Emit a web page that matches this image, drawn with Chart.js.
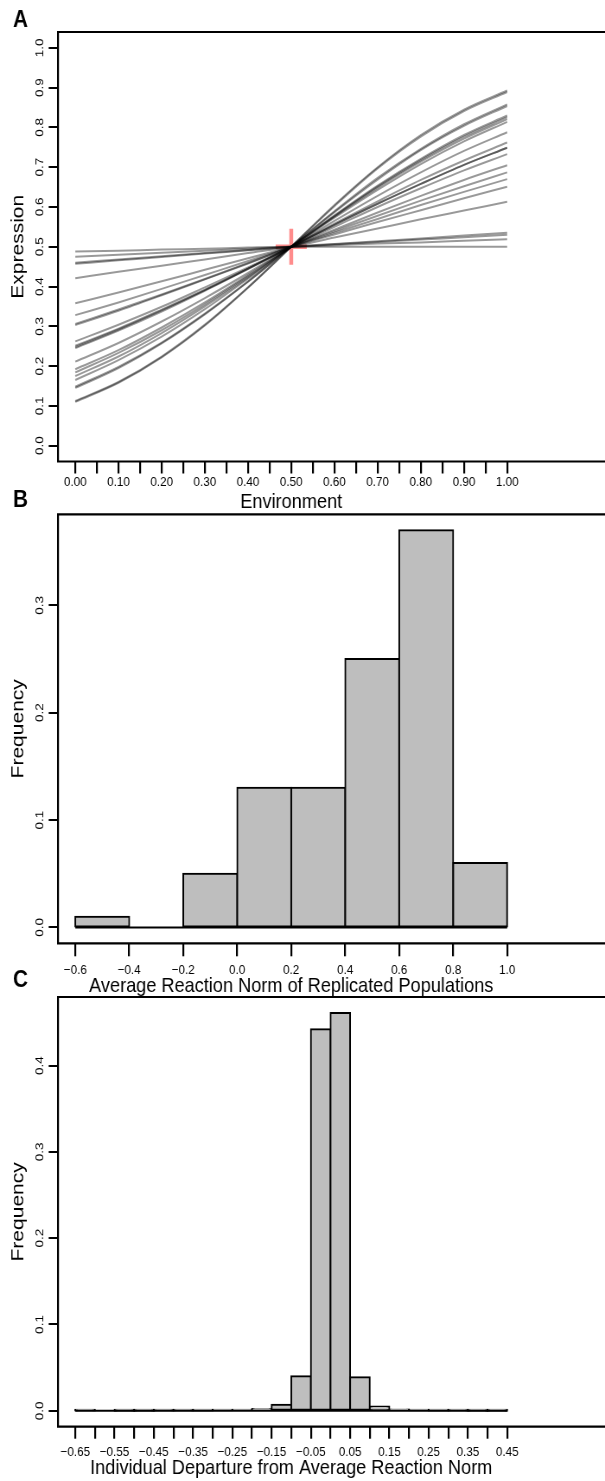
<!DOCTYPE html>
<html>
<head>
<meta charset="utf-8">
<script src="https://cdn.jsdelivr.net/npm/chart.js@4.4.1/dist/chart.umd.min.js"></script>
<style>
html, body { margin: 0; padding: 0; background: #fff; overflow: hidden; }
#wrap { position: relative; width: 605px; height: 1481px; }
#wrap canvas { position: absolute; left: 0; }
</style>
</head>
<body>
<div id="wrap">
  <canvas id="chartA" width="700" height="520" style="top:0px;width:605px;height:520px"></canvas>
  <canvas id="chartB" width="700" height="520" style="top:480px;width:605px;height:520px"></canvas>
  <canvas id="chartC" width="700" height="519" style="top:962px;width:605px;height:519px"></canvas>
</div>
<script>
// --- panel A: reaction norms, read at these environment values
const envX = [0, 0.1, 0.2, 0.3, 0.4, 0.5, 0.6, 0.7, 0.8, 0.9, 1];
const reactionNorms = [
  [0.110, 0.158, 0.222, 0.302, 0.397, 0.5, 0.605, 0.700, 0.781, 0.845, 0.893],
  [0.112, 0.160, 0.224, 0.304, 0.398, 0.5, 0.602, 0.697, 0.777, 0.841, 0.889],
  [0.145, 0.195, 0.257, 0.330, 0.412, 0.5, 0.589, 0.673, 0.746, 0.808, 0.858],
  [0.148, 0.198, 0.259, 0.332, 0.413, 0.5, 0.587, 0.669, 0.743, 0.804, 0.854],
  [0.165, 0.215, 0.274, 0.343, 0.420, 0.5, 0.579, 0.654, 0.721, 0.781, 0.830],
  [0.175, 0.224, 0.283, 0.350, 0.423, 0.5, 0.577, 0.651, 0.718, 0.777, 0.826],
  [0.184, 0.233, 0.290, 0.355, 0.426, 0.5, 0.576, 0.648, 0.714, 0.772, 0.821],
  [0.192, 0.240, 0.297, 0.360, 0.429, 0.5, 0.573, 0.643, 0.708, 0.765, 0.814],
  [0.211, 0.258, 0.312, 0.371, 0.434, 0.5, 0.565, 0.628, 0.687, 0.741, 0.788],
  [0.245, 0.289, 0.337, 0.389, 0.444, 0.5, 0.558, 0.614, 0.668, 0.717, 0.762],
  [0.248, 0.292, 0.340, 0.391, 0.445, 0.5, 0.555, 0.608, 0.658, 0.706, 0.749],
  [0.251, 0.294, 0.342, 0.392, 0.445, 0.5, 0.555, 0.608, 0.658, 0.706, 0.749],
  [0.262, 0.304, 0.349, 0.398, 0.448, 0.5, 0.550, 0.600, 0.647, 0.692, 0.733],
  [0.303, 0.339, 0.378, 0.418, 0.458, 0.5, 0.543, 0.586, 0.628, 0.668, 0.705],
  [0.306, 0.342, 0.380, 0.419, 0.459, 0.5, 0.539, 0.578, 0.616, 0.652, 0.687],
  [0.328, 0.360, 0.394, 0.429, 0.464, 0.5, 0.535, 0.570, 0.605, 0.638, 0.670],
  [0.358, 0.385, 0.413, 0.442, 0.471, 0.5, 0.531, 0.562, 0.592, 0.622, 0.651],
  [0.421, 0.437, 0.452, 0.468, 0.484, 0.5, 0.523, 0.546, 0.569, 0.591, 0.613],
  [0.457, 0.466, 0.474, 0.483, 0.491, 0.5, 0.507, 0.514, 0.521, 0.528, 0.535],
  [0.460, 0.468, 0.476, 0.484, 0.492, 0.5, 0.506, 0.512, 0.518, 0.524, 0.530],
  [0.475, 0.480, 0.485, 0.490, 0.495, 0.5, 0.504, 0.508, 0.511, 0.515, 0.519],
  [0.488, 0.490, 0.493, 0.495, 0.498, 0.5, 0.500, 0.500, 0.500, 0.500, 0.500]
];
const crossPoint = {x: 0.5, y: 0.5};
const envTicks = [0, 0.05, 0.1, 0.15, 0.2, 0.25, 0.3, 0.35, 0.4, 0.45, 0.5,
                  0.55, 0.6, 0.65, 0.7, 0.75, 0.8, 0.85, 0.9, 0.95, 1];
const exprTicks = [0, 0.1, 0.2, 0.3, 0.4, 0.5, 0.6, 0.7, 0.8, 0.9, 1];

// --- panel B: average reaction norm of replicated populations
const avgEdges = [-0.6, -0.4, -0.2, 0, 0.2, 0.4, 0.6, 0.8, 1.0];
const avgFreq = [0.01, 0, 0.05, 0.13, 0.13, 0.25, 0.37, 0.06];
const avgFreqTicks = [0, 0.1, 0.2, 0.3];

// --- panel C: individual departure from average reaction norm
const depEdges = [-0.65, -0.6, -0.55, -0.5, -0.45, -0.4, -0.35, -0.3, -0.25, -0.2, -0.15, -0.1,
                  -0.05, 0, 0.05, 0.1, 0.15, 0.2, 0.25, 0.3, 0.35, 0.4, 0.45];
const depFreq = [0.0003, 0, 0.0002, 0.0002, 0.0003, 0.0004, 0.0005, 0.0008, 0.001, 0.002, 0.007,
                 0.040, 0.442, 0.461, 0.039, 0.005, 0.0015, 0.0008, 0.0005, 0.0003, 0.0002, 0.0002];
const depFreqTicks = [0, 0.1, 0.2, 0.3, 0.4];

Chart.defaults.font.family = '"Liberation Sans", Arial, Helvetica, sans-serif';
Chart.defaults.color = '#000';
Chart.defaults.animation = false;

const TICK_FONT = {size: 13.5};
const minus = s => s.replace('-', '\u2212');
const AXIS_W = 67.1;

const panelFrame = {
  id: 'panelFrame',
  afterDraw(chart, args, opts) {
    const {ctx, chartArea: a} = chart;
    ctx.save();
    ctx.strokeStyle = '#000';
    ctx.lineWidth = 2.2;
    ctx.beginPath();
    ctx.moveTo(chart.width + 5, a.top);
    ctx.lineTo(a.left, a.top);
    ctx.lineTo(a.left, a.bottom);
    ctx.lineTo(chart.width + 5, a.bottom);
    ctx.stroke();
    ctx.fillStyle = '#000';
    ctx.font = 'bold 24px "Liberation Sans", Arial, sans-serif';
    ctx.fillText(opts.letter, 15, opts.letterY);
    ctx.restore();
  }
};

function xAxis(min, max, ticks, label, fmt, axisHeight, tickLen, labelPad, titlePad) {
  return {
    type: 'linear', min: min, max: max, bounds: 'data', offset: false,
    afterBuildTicks: s => { s.ticks = ticks.map(v => ({value: v})); },
    afterFit: s => { s.height = axisHeight; },
    border: {display: false},
    grid: {offset: false, drawOnChartArea: false, drawTicks: true, tickLength: tickLen, color: '#000', lineWidth: 2.2},
    ticks: {autoSkip: false, maxRotation: 0, minRotation: 0, padding: labelPad, font: TICK_FONT, color: '#000', callback: fmt},
    title: {display: true, text: label, color: '#000', font: {size: 21}, padding: {top: 0, bottom: titlePad}}
  };
}

function yAxis(min, max, ticks, label) {
  return {
    type: 'linear', min: min, max: max, bounds: 'data',
    afterBuildTicks: s => { s.ticks = ticks.map(v => ({value: v})); },
    afterFit: s => { s.width = AXIS_W; },
    border: {display: false},
    grid: {drawOnChartArea: false, drawTicks: true, tickLength: 10.8, color: '#000', lineWidth: 2},
    ticks: {minRotation: 90, maxRotation: 90, crossAlign: 'center', padding: 0.6, font: TICK_FONT, color: '#000',
            callback: v => v.toFixed(1)},
    title: {display: true, text: label, color: '#000', font: {size: 21}, padding: {top: 9, bottom: 0}}
  };
}

const baseOptions = (top, letter, letterY) => ({
  responsive: false,
  devicePixelRatio: 1,
  layout: {padding: {top: top, right: 93.2, left: 0, bottom: 0}},
  plugins: {legend: {display: false}, tooltip: {enabled: false}, panelFrame: {letter: letter, letterY: letterY}}
});

// ---------- A
const optsA = baseOptions(32, 'A', 26.7);
optsA.scales = {
  x: xAxis(-0.04, 1.04, envTicks, 'Environment', (v, i) => (i % 2 ? '' : v.toFixed(2)),
           520 - 461.5, 12, 0.4, 5.6),
  y: yAxis(-0.04, 1.04, exprTicks, 'Expression')
};
new Chart(document.getElementById('chartA'), {
  type: 'line',
  data: {
    datasets: [{
      data: [crossPoint], showLine: false, pointStyle: 'cross', pointRadius: 18,
      pointBorderColor: 'rgba(255,0,0,0.45)', pointBorderWidth: 4.5, order: 5
    }].concat(reactionNorms.map(row => ({
      data: row.map((y, i) => ({x: envX[i], y: y})),
      borderColor: 'rgba(0,0,0,0.4)', borderWidth: 2, pointRadius: 0,
      cubicInterpolationMode: 'monotone', fill: false, order: 1
    })))
  },
  options: optsA,
  plugins: [panelFrame]
});

// ---------- histogram helper
function histData(edges, freq) {
  return [{
    type: 'bar',
    data: freq.map((f, i) => ({x: (edges[i] + edges[i + 1]) / 2, y: f})),
    backgroundColor: '#BEBEBE', borderColor: '#000', borderWidth: 2, borderSkipped: false,
    inflateAmount: 1, barPercentage: 1, categoryPercentage: 1, order: 2
  }, {
    type: 'line',
    data: [{x: edges[0], y: 0}, {x: edges[edges.length - 1], y: 0}],
    borderColor: '#000', borderWidth: 2, pointRadius: 0, order: 1
  }];
}

// ---------- B
const optsB = baseOptions(34.3, 'B', 26.7);
optsB.scales = {
  x: xAxis(-0.664, 1.064, avgEdges, 'Average Reaction Norm of Replicated Populations',
           v => minus(v.toFixed(1)), 520 - 463.3, 13, 5.6, 1.6),
  y: yAxis(-0.0148, 0.3848, avgFreqTicks, 'Frequency')
};
new Chart(document.getElementById('chartB'), {
  type: 'bar',
  data: {datasets: histData(avgEdges, avgFreq)},
  options: optsB,
  plugins: [panelFrame]
});

// ---------- C
const optsC = baseOptions(35, 'C', 24.7);
optsC.scales = {
  x: xAxis(-0.694, 0.494, depEdges, 'Individual Departure from Average Reaction Norm',
           (v, i) => (i % 2 ? '' : minus(v.toFixed(2))), 519 - 464.7, 12, 5.2, 0.4),
  y: yAxis(-0.0184, 0.4794, depFreqTicks, 'Frequency')
};
new Chart(document.getElementById('chartC'), {
  type: 'bar',
  data: {datasets: histData(depEdges, depFreq)},
  options: optsC,
  plugins: [panelFrame]
});
</script>
</body>
</html>
